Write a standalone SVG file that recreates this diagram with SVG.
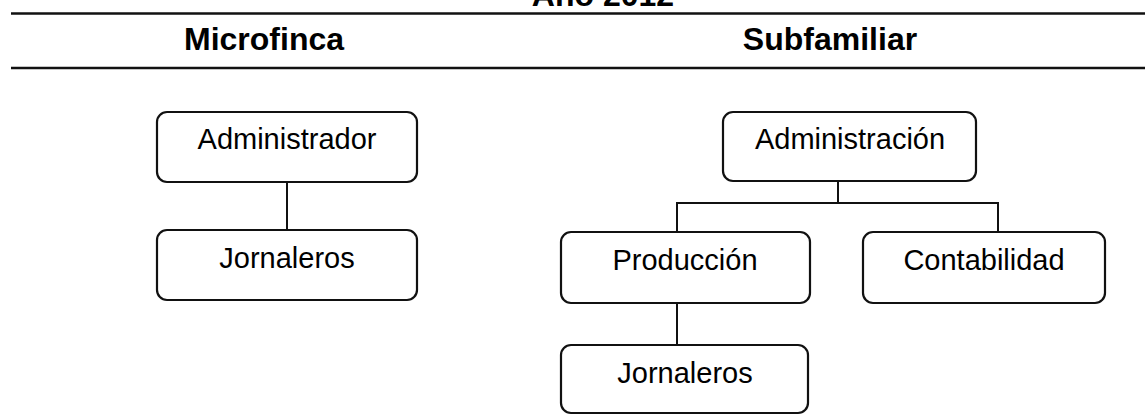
<svg xmlns="http://www.w3.org/2000/svg" width="1145" height="418" viewBox="0 0 1145 418">
<style>
.hd{font-family:"Liberation Sans",Arial,sans-serif;font-weight:bold;font-size:32px;fill:#000;text-anchor:middle}
.bx{fill:#fff;stroke:#111;stroke-width:2.2}
.tx{font-family:"Liberation Sans",Arial,sans-serif;font-size:29px;fill:#000;text-anchor:middle}
.rule{stroke:#111;stroke-width:2.5}
.cn{fill:none;stroke:#111;stroke-width:2}
</style>
<rect width="1145" height="418" fill="#fff"/>
<g id="header">
<text class="hd" x="603" y="6">Año 2012</text>
<line class="rule" x1="11" y1="13.5" x2="1145" y2="13.5"/>
<text class="hd" x="264" y="50">Microfinca</text>
<text class="hd" x="830" y="50">Subfamiliar</text>
<line class="rule" x1="11" y1="68" x2="1145" y2="68"/>
</g>
<g id="connectors">
<line class="cn" x1="287" y1="182" x2="287" y2="230"/>
<polyline class="cn" points="838,181 838,203"/>
<polyline class="cn" points="677,232 677,203 998,203 998,232"/>
<line class="cn" x1="677" y1="303" x2="677" y2="345"/>
</g>
<g id="n-administrador">
<rect class="bx" x="157" y="112" width="260" height="70" rx="10"/>
<text class="tx" x="287" y="149">Administrador</text>
</g>
<g id="n-jornaleros1">
<rect class="bx" x="157" y="230" width="260" height="70" rx="10"/>
<text class="tx" x="287" y="268">Jornaleros</text>
</g>
<g id="n-administracion">
<rect class="bx" x="723" y="112" width="253" height="69" rx="10"/>
<text class="tx" x="850" y="149">Administración</text>
</g>
<g id="n-produccion">
<rect class="bx" x="561" y="232" width="249" height="71" rx="10"/>
<text class="tx" x="685" y="270">Producción</text>
</g>
<g id="n-contabilidad">
<rect class="bx" x="863" y="232" width="242" height="71" rx="10"/>
<text class="tx" x="984" y="270">Contabilidad</text>
</g>
<g id="n-jornaleros2">
<rect class="bx" x="561" y="345" width="247" height="68" rx="10"/>
<text class="tx" x="685" y="383">Jornaleros</text>
</g>
</svg>
